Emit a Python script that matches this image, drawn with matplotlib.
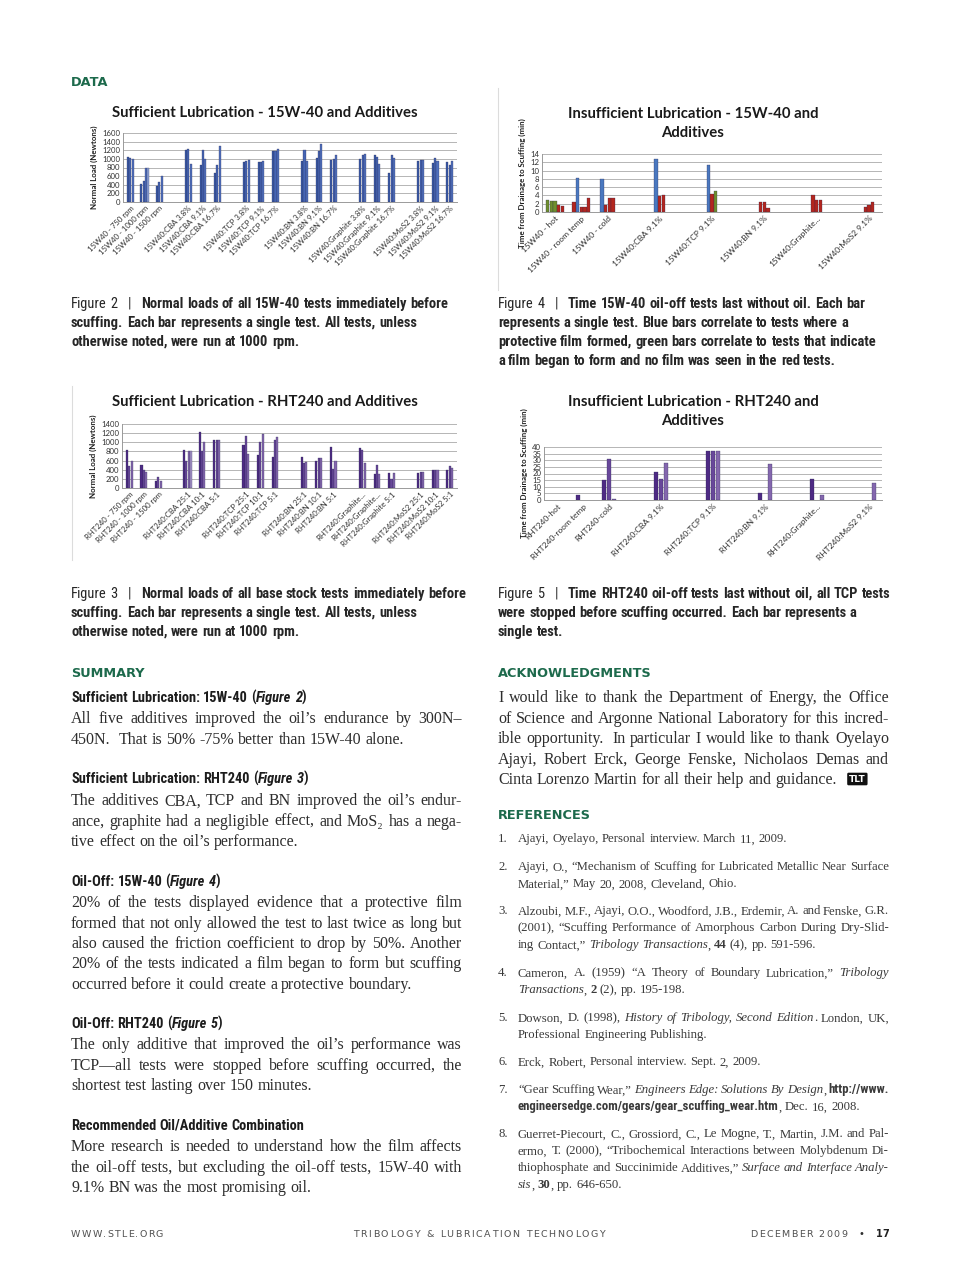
import re

import matplotlib
matplotlib.use("Agg")
import matplotlib.pyplot as plt
import numpy as np
from matplotlib import font_manager as fm

W, H = 960, 1270

# ---------------------------------------------------------------- chart data
sl15_labels = ["15W40 - 750 rpm", "15W40 - 1000 rpm", "15W40 - 1500 rpm",
               "15W40:CBA 3.8%", "15W40:CBA 9.1%", "15W40:CBA 16.7%",
               "15W40:TCP 3.8%", "15W40:TCP 9.1%", "15W40:TCP 16.7%",
               "15W40:BN 3.8%", "15W40:BN 9.1%", "15W40:BN 16.7%",
               "15W40:Graphite 3.8%", "15W40:Graphite 9.1%", "15W40:Graphite 16.7%",
               "15W40:MoS2 3.8%", "15W40:MoS2 9.1%", "15W40:MoS2 16.7%"]
sl15_loads = [[1040, 1010, 1000], [420, 480, 800, 780], [380, 470, 600],
              [1200, 1220, 870], [850, 1200, 1000], [670, 850, 1310],
              [920, 960, 970], [930, 920, 960], [1180, 1190, 1230],
              [950, 1210, 960], [1030, 1190, 1350], [970, 990, 1080],
              [990, 1080, 1120], [1080, 1050, 880], [670, 1090, 1010],
              [960, 970, 980], [910, 1030, 960], [930, 860, 940]]

oil15_labels = ["15W40 - hot", "15W40 - room temp", "15W40 - cold", "15W40:CBA 9.1%",
                "15W40:TCP 9.1%", "15W40:BN 9.1%", "15W40:Graphite...", "15W40:MoS2 9.1%"]
oil15_minutes = [[2.8, 2.7, 2.6, 1.8, 1.5], [2.5, 8.3, 1.1, 1.3, 3.4], [8.0, 1.6, 3.4, 3.4],
                 [12.8, 3.8, 4.0], [11.4, 4.4, 5.0], [2.5, 2.3, 0.9], [4.2, 3.0, 3.0],
                 [1.2, 1.7, 2.3]]
oil15_film = [["partial", "partial", "partial", "none", "none"],
              ["none", "film", "none", "none", "none"],
              ["film", "none", "none", "none"],
              ["film", "none", "none"],
              ["film", "none", "partial"],
              ["none", "none", "none"], ["none", "none", "none"], ["none", "none", "none"]]

slrht_labels = ["RHT240 - 750 rpm", "RHT240 - 1000 rpm", "RHT240 - 1500 rpm",
                "RHT240:CBA 25:1", "RHT240:CBA 10:1", "RHT240:CBA 5:1",
                "RHT240:TCP 25:1", "RHT240:TCP 10:1", "RHT240:TCP 5:1",
                "RHT240:BN 25:1", "RHT240:BN 10:1", "RHT240:BN 5:1",
                "RHT240:Graphite...", "RHT240:Graphite...", "RHT240:Graphite 5:1",
                "RHT240:MoS2 25:1", "RHT240:MoS2 10:1", "RHT240:MoS2 5:1"]
slrht_loads = [[840, 490, 600], [500, 400, 350], [150, 230, 150],
               [840, 590, 820, 800], [1220, 820, 1000], [1040, 1040, 1060],
               [950, 1140, 750], [720, 1000, 1190], [670, 1060, 1120],
               [670, 540, 560], [590, 660, 650], [900, 420, 590],
               [870, 830, 540], [300, 500, 310], [330, 200, 320],
               [330, 360, 340], [390, 390, 400], [400, 480, 440]]

oilrht_labels = ["RHT240-hot", "RHT240-room temp", "RHT240-cold", "RHT240:CBA 9.1%",
                 "RHT240:TCP 9.1%", "RHT240:BN 9.1%", "RHT240:Graphite...", "RHT240:MoS2 9.1%"]
nan = np.nan
oilrht_minutes = [[nan, nan, nan], [4, nan, nan], [15, 31, 1], [21, 16, 28],
                  [37, 37, 37], [5, nan, 27], [15.5, nan, 3.5], [nan, nan, 13]]

# ---------------------------------------------------------------- page text
caption2 = ["Figure 2   |   <b>Normal loads of all 15W-40 tests immediately before</b>",
            "<b>scuffing. Each bar represents a single test. All tests, unless</b>",
            "<b>otherwise noted, were run at 1000 rpm.</b>"]
caption3 = ["Figure 3   |   <b>Normal loads of all base stock tests immediately before</b>",
            "<b>scuffing. Each bar represents a single test. All tests, unless</b>",
            "<b>otherwise noted, were run at 1000 rpm.</b>"]
caption4 = ["Figure 4   |   <b>Time 15W-40 oil-off tests last without oil. Each bar</b>",
            "<b>represents a single test. Blue bars correlate to tests where a</b>",
            "<b>protective film formed, green bars correlate to tests that indicate</b>",
            "<b>a film began to form and no film was seen in the red tests.</b>"]
caption5 = ["Figure 5   |   <b>Time RHT240 oil-off tests last without oil, all TCP tests</b>",
            "<b>were stopped before scuffing occurred. Each bar represents a</b>",
            "<b>single test.</b>"]

summary = [
    ("Sufficient Lubrication: 15W-40 (<i>Figure 2</i>)", 697,
     ["All five additives improved the oil’s endurance by 300N–",
      "450N.  That is 50% -75% better than 15W-40 alone."], 718),
    ("Sufficient Lubrication: RHT240 (<i>Figure 3</i>)", 778,
     ["The additives CBA, TCP and BN improved the oil’s endur-",
      "ance, graphite had a negligible effect, and MoS₂ has a nega-",
      "tive effect on the oil’s performance."], 800),
    ("Oil-Off: 15W-40 (<i>Figure 4</i>)", 881,
     ["20% of the tests displayed evidence that a protective film",
      "formed that not only allowed the test to last twice as long but",
      "also caused the friction coefficient to drop by 50%. Another",
      "20% of the tests indicated a film began to form but scuffing",
      "occurred before it could create a protective boundary."], 902),
    ("Oil-Off: RHT240 (<i>Figure 5</i>)", 1023,
     ["The only additive that improved the oil’s performance was",
      "TCP—all tests were stopped before scuffing occurred, the",
      "shortest test lasting over 150 minutes."], 1044),
    ("Recommended Oil/Additive Combination", 1125,
     ["More research is needed to understand how the film affects",
      "the oil-off tests, but excluding the oil-off tests, 15W-40 with",
      "9.1% BN was the most promising oil."], 1146),
]

acknowledgments = ["I would like to thank the Department of Energy, the Office",
                   "of Science and Argonne National Laboratory for this incred-",
                   "ible opportunity.  In particular I would like to thank Oyelayo",
                   "Ajayi, Robert Erck, George Fenske, Nicholaos Demas and",
                   "Cinta Lorenzo Martin for all their help and guidance."]

references = [
    (838, ["Ajayi, Oyelayo, Personal interview. March 11, 2009."]),
    (866, ["Ajayi, O., “Mechanism of Scuffing for Lubricated Metallic Near Surface",
           "Material,” May 20, 2008, Cleveland, Ohio."]),
    (910, ["Alzoubi, M.F., Ajayi, O.O., Woodford, J.B., Erdemir, A. and Fenske, G.R.",
           "(2001), “Scuffing Performance of Amorphous Carbon During Dry-Slid-",
           "ing Contact,” <i>Tribology Transactions</i>, <b>44</b> (4), pp. 591-596."]),
    (972, ["Cameron, A. (1959) “A Theory of Boundary Lubrication,” <i>Tribology</i>",
           "<i>Transactions</i>, <b>2</b> (2), pp. 195-198."]),
    (1017, ["Dowson, D. (1998), <i>History of Tribology, Second Edition</i>. London, UK,",
            "Professional Engineering Publishing."]),
    (1061, ["Erck, Robert, Personal interview. Sept. 2, 2009."]),
    (1089, ["“Gear Scuffing Wear,” <i>Engineers Edge: Solutions By Design</i>, <s>http://www.</s>",
            "<s>engineersedge.com/gears/gear_scuffing_wear.htm</s>, Dec. 16, 2008."]),
    (1133, ["Guerret-Piecourt, C., Grossiord, C., Le Mogne, T., Martin, J.M. and Pal-",
            "ermo, T. (2000), “Tribochemical Interactions between Molybdenum Di-",
            "thiophosphate and Succinimide Additives,” <i>Surface and Interface Analy-</i>",
            "<i>sis</i>, <b>30</b>, pp. 646-650."]),
]

# ---------------------------------------------------------------- fonts
_avail = {f.name for f in fm.fontManager.ttflist}


def pick(*names):
    for n in names:
        if n in _avail:
            return n
    return "DejaVu Sans"


SERIF = pick("Liberation Serif", "DejaVu Serif")
NARROW = pick("Liberation Sans Narrow", "Roboto Condensed", "Open Sans Condensed", "Liberation Sans")
CHART = pick("Lato", "Open Sans", "DejaVu Sans")
GREEN = "#1d6a4c"

fig = plt.figure(figsize=(W / 100, H / 100), dpi=100)
renderer = fig.canvas.get_renderer()
_cache = {}


def measure(s, **kw):
    key = (s, tuple(sorted((k, str(v)) for k, v in kw.items())))
    if key not in _cache:
        t = fig.text(0, 0, s, **kw)
        _cache[key] = t.get_window_extent(renderer).width
        t.remove()
    return _cache[key]


def advance(s, **kw):
    # pen advance of s, independent of side bearings
    return measure("|" + s + "|", **kw) - measure("||", **kw)


def fit(s, target, **kw):
    return 10 * target / measure(s, size=10, **kw)


ROLES = {
    "head": dict(family=["DejaVu Sans"], weight="bold", color=GREEN),
    "cap": dict(family=[NARROW, "DejaVu Sans"], weight="normal", color="#262626"),
    "sub": dict(family=[NARROW, "DejaVu Sans"], weight="bold", color="#1c1c1c"),
    "body": dict(family=[SERIF, "DejaVu Serif"], weight="normal", color="#2d2d2d"),
    "ref": dict(family=[SERIF, "DejaVu Serif"], weight="normal", color="#3a3a3a"),
}
_calib = {"head": ("ACKNOWLEDGMENTS", 154),
          "cap": ("scuffing. Each bar represents a single test. All tests, unless", 347),
          "sub": ("Recommended Oil/Additive Combination", 234),
          "body": ("formed that not only allowed the test to last twice as long but", 391),
          "ref": ("Ajayi, Oyelayo, Personal interview. March 11, 2009.", 269)}
for k, (s, w) in _calib.items():
    r = ROLES[k]
    wt = "bold" if k == "cap" else r["weight"]
    r["size"] = fit(s, w, family=r["family"], weight=wt)
    r["space"] = advance(" ", family=r["family"], size=r["size"], weight=r["weight"])

TAG = re.compile(r"(</?[ibs]>)")


def words_of(line):
    """Split a tagged line into words; each word = [n_spaces_before, [(text, state), ...]]."""
    state = {"i": False, "b": False, "s": False}
    words, pending, joined = [], 0, False
    for piece in TAG.split(line):
        if not piece:
            continue
        m = re.fullmatch(r"<(/?)([ibs])>", piece)
        if m:
            state[m.group(2)] = m.group(1) == ""
            continue
        st = dict(state)
        for k, part in enumerate(piece.split(" ")):
            if k > 0:
                pending += 1
                joined = False
            if not part:
                continue
            if joined and words:
                words[-1][1].append((part, st))
            else:
                words.append([pending if words else 0, [(part, st)]])
                pending = 0
            joined = True
    return words


def props(role, st):
    r = ROLES[role]
    fam, weight, style = r["family"], r["weight"], "normal"
    if st["s"]:
        fam, weight = [NARROW, "DejaVu Sans"], "bold"
    if st["b"]:
        weight = "bold"
    if st["i"]:
        style = "italic"
    return dict(family=fam, size=r["size"], weight=weight, style=style)


def draw_line(x, yc, role, line, width=None):
    r = ROLES[role]
    base = yc + 0.34 * r["size"] * 100 / 72
    words = words_of(line)
    total = sum(advance(t, **props(role, st)) for _, parts in words for t, st in parts)
    units = sum(n for n, _ in words)
    gap = r["space"]
    if width and units:
        gap = max((width - total) / units, 0.4 * r["space"])
    pen = x
    for n, parts in words:
        pen += n * gap
        for txt, st in parts:
            p = props(role, st)
            fig.text(pen / W, 1 - base / H, txt, ha="left", va="baseline", color=r["color"], **p)
            pen += advance(txt, **p)
    return pen


def tracked(x, yc, s, width, size=6.8, weight="normal", color="#505050"):
    kw = dict(family="DejaVu Sans", size=size, weight=weight)
    ws = [advance(c, **kw) for c in s]
    gap = (width - sum(ws)) / (len(s) - 1)
    cx = x
    for c, w in zip(s, ws):
        if c != " ":
            fig.text(cx / W, 1 - (yc + 0.34 * size * 100 / 72) / H, c,
                     color=color, ha="left", va="baseline", **kw)
        cx += w + gap


# ---------------------------------------------------------------- charts
def px_axes(x0, y0, x1, y1):
    return fig.add_axes([x0 / W, 1 - y1 / H, (x1 - x0) / W, (y1 - y0) / H])


def style_chart(ax, ymax, ystep, ylabel, labels, pos, nslots, xsize):
    ax.set_xlim(-0.5, nslots - 0.5)
    ax.set_ylim(0, ymax)
    ax.set_yticks(np.arange(0, ymax + 1, ystep))
    ax.yaxis.grid(True, color="#b5b5b5", lw=0.7)
    ax.set_axisbelow(True)
    for s in ("top", "right"):
        ax.spines[s].set_visible(False)
    for s in ("left", "bottom"):
        ax.spines[s].set_color("#9a9a9a")
        ax.spines[s].set_linewidth(0.7)
    ax.tick_params(axis="both", length=0, labelsize=5.6, colors="#303030", pad=2)
    ax.set_xticks(pos)
    ax.set_xticklabels(labels, rotation=45, ha="right", va="top", rotation_mode="anchor",
                       fontsize=xsize, family=CHART)
    for lab in ax.get_yticklabels():
        lab.set_family(CHART)
    ax.set_ylabel(ylabel, fontsize=5.7, fontweight="bold", family=CHART, labelpad=3, color="#202020")


def clustered(ax, pos, values, width, colors):
    for p, vals, cols in zip(pos, values, colors):
        offs = (np.arange(len(vals)) - (len(vals) - 1) / 2) * width
        ax.bar(p + offs, vals, width=width * 0.9, color=cols, edgecolor="#2a2a50", linewidth=0.2)


def frame_line(x, y0, y1):
    fig.add_artist(plt.Line2D([x / W, x / W], [1 - y0 / H, 1 - y1 / H], color="#dcdcdc", lw=0.8))


blues = ["#3a5aa8", "#4565b4", "#5070be", "#8ea3d6"]
purples = ["#4e2a84", "#68479a", "#8467ae", "#a592c8"]
film_colors = {"film": "#4a78bf", "partial": "#6f8f2e", "none": "#b3261e"}

title_kw = dict(family=CHART, weight="bold", color="#1a1a1a", ha="center", va="center")
tsize = fit("Sufficient Lubrication - 15W-40 and Additives", 307, family=CHART, weight="bold")

# Figure 2
ax = px_axes(123, 133, 457, 202)
idx = np.arange(len(sl15_labels))
pos = idx + idx // 3
clustered(ax, pos, sl15_loads, 0.16, [blues[:len(v)] for v in sl15_loads])
style_chart(ax, 1600, 200, "Normal Load (Newtons)", sl15_labels, pos, pos[-1] + 1, 5.6)
fig.text(265 / W, 1 - 113 / H, "Sufficient Lubrication - 15W-40 and Additives", size=tsize, **title_kw)

# Figure 3
ax = px_axes(122, 424, 457, 488)
idx = np.arange(len(slrht_labels))
pos = idx + idx // 3
clustered(ax, pos, slrht_loads, 0.16, [purples[:len(v)] for v in slrht_loads])
style_chart(ax, 1400, 200, "Normal Load (Newtons)", slrht_labels, pos, pos[-1] + 1, 5.6)
fig.text(265 / W, 1 - 402 / H, "Sufficient Lubrication - RHT240 and Additives", size=tsize, **title_kw)
frame_line(72, 386, 560)

# Figure 4
ax = px_axes(542, 154, 882, 212)
idx = np.arange(len(oil15_labels))
pos = np.where(idx < 3, idx, 2 * idx - 2)
clustered(ax, pos, oil15_minutes, 0.14, [[film_colors[f] for f in fl] for fl in oil15_film])
style_chart(ax, 14, 2, "Time from Drainage to Scuffing (min)", oil15_labels, pos, pos[-1] + 1, 6.0)
fig.text(693 / W, 1 - 114 / H, "Insufficient Lubrication - 15W-40 and", size=tsize, **title_kw)
fig.text(693 / W, 1 - 133 / H, "Additives", size=tsize, **title_kw)
frame_line(498, 88, 290)

# Figure 5
ax = px_axes(544, 447, 882, 500)
idx = np.arange(len(oilrht_labels))
pos = np.where(idx < 3, idx, 2 * idx - 2)
clustered(ax, pos, oilrht_minutes, 0.18, [purples[:3]] * len(oilrht_minutes))
style_chart(ax, 40, 5, "Time from Drainage to Scuffing (min)", oilrht_labels, pos, pos[-1] + 1, 6.0)
fig.text(693 / W, 1 - 402 / H, "Insufficient Lubrication - RHT240 and", size=tsize, **title_kw)
fig.text(693 / W, 1 - 421 / H, "Additives", size=tsize, **title_kw)

# ---------------------------------------------------------------- page text
LX, RX, COLW = 71, 498, 391

draw_line(LX, 82, "head", "DATA")
for k, line in enumerate(caption2):
    draw_line(LX, 303 + 19 * k, "cap", line)
for k, line in enumerate(caption3):
    draw_line(LX, 593 + 19 * k, "cap", line)
for k, line in enumerate(caption4):
    draw_line(RX, 303 + 19 * k, "cap", line)
for k, line in enumerate(caption5):
    draw_line(RX, 593 + 19 * k, "cap", line)

draw_line(LX, 673, "head", "SUMMARY")
for sub, ys, body, yb in summary:
    draw_line(LX, ys, "sub", sub)
    for k, line in enumerate(body):
        last = k == len(body) - 1
        draw_line(LX, yb + 20.3 * k, "body", line, None if last else COLW)

draw_line(RX, 673, "head", "ACKNOWLEDGMENTS")
for k, line in enumerate(acknowledgments):
    last = k == len(acknowledgments) - 1
    xe = draw_line(RX, 697 + 20.5 * k, "body", line, None if last else COLW)
fig.text((xe + 12) / W, 1 - 779 / H, "TLT", family="DejaVu Sans", size=6.5, weight="bold",
         color="white", ha="left", va="center",
         bbox=dict(boxstyle="round,pad=0.2,rounding_size=0.15", fc="#111111", ec="none"))

draw_line(RX, 815, "head", "REFERENCES")
for n, (y0, lines) in enumerate(references, start=1):
    draw_line(RX, y0, "ref", f"{n}.")
    for k, line in enumerate(lines):
        last = k == len(lines) - 1
        draw_line(RX + 20, y0 + 17 * k, "ref", line, None if last else COLW - 20)

# footer
tracked(71, 1234, "WWW.STLE.ORG", 92)
tracked(353, 1234, "TRIBOLOGY & LUBRICATION TECHNOLOGY", 252)
tracked(750, 1234, "DECEMBER 2009", 97)
fig.text(861 / W, 1 - 1234 / H, "•", family="DejaVu Sans", size=7, color="#303030", ha="center", va="center")
tracked(876, 1234, "17", 13, size=7, weight="bold", color="#202020")

fig.savefig("out.png", dpi=100)
